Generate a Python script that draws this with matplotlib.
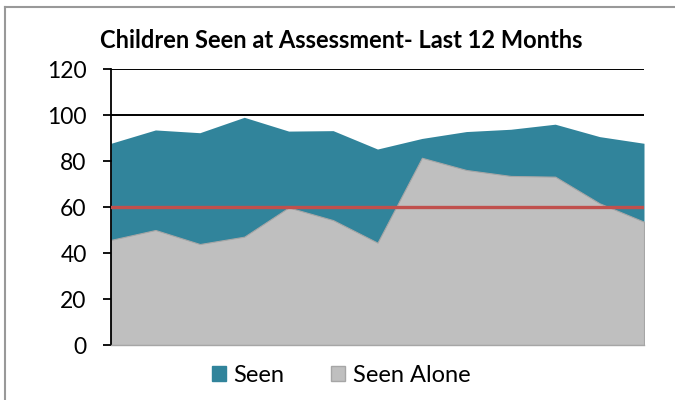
import matplotlib.pyplot as plt
from matplotlib.lines import Line2D
from matplotlib.patches import Patch

plt.rcParams['font.family'] = ['Lato', 'DejaVu Sans']

# 13 monthly points
months = list(range(13))
seen = [87.7, 93.5, 92.3, 99.0, 93.0, 93.2, 85.2, 89.8, 92.8, 93.8, 96.0, 90.6, 87.7]
seen_alone = [45.7, 50.0, 43.9, 47.1, 59.8, 54.3, 44.5, 81.4, 76.1, 73.5, 73.2, 61.6, 53.6]
target = 60
yticks = [0, 20, 40, 60, 80, 100, 120]

teal = '#31849B'
grey = '#BFBFBF'
red = '#C0504D'

fig = plt.figure(figsize=(6.75, 4), dpi=100)
ax = fig.add_axes([111/675, 1-345/400, 533/675, 276/400])

for y in yticks[1:]:
    ax.axhline(y, color='black', lw=1.4, zorder=0)
ax.fill_between(months, 0, seen, color=teal, lw=0, zorder=1)
ax.fill_between(months, 0, seen_alone, color=grey, edgecolor='#A6A6A6', lw=0.8, zorder=2)
ax.plot([months[0], months[-1]], [target, target], color=red, lw=2.4, zorder=3)

ax.set_xlim(months[0], months[-1])
ax.set_ylim(0, 120)
ax.set_yticks(yticks)
ax.set_xticks([])
ax.tick_params(axis='y', labelsize=16.5, length=5.5, width=1.3, direction='out', pad=12)
for s in ['top', 'right']:
    ax.spines[s].set_visible(False)
ax.spines['left'].set_linewidth(1.3)
ax.spines['bottom'].set_color('#A6A6A6')
ax.spines['bottom'].set_linewidth(1.0)

fig.text(341/675, 1-40/400, 'Children Seen at Assessment- Last 12 Months',
         ha='center', va='center', fontsize=17, fontweight='bold')

handles = [Patch(facecolor=teal, edgecolor=teal), Patch(facecolor=grey, edgecolor='#A6A6A6')]
fig.legend(handles, ['Seen', 'Seen Alone'], loc='center', bbox_to_anchor=(341/675, 1-375/400),
           ncol=2, frameon=False, fontsize=17, handlelength=0.6, handleheight=0.6,
           handletextpad=0.3, columnspacing=2.0)

# chart outer border
fig.add_artist(Line2D([5/675, 5/675], [0, 1-7/400], color='#999999', lw=1.5))
fig.add_artist(Line2D([5/675, 1], [1-7/400, 1-7/400], color='#999999', lw=1.5))

fig.savefig('out.png', dpi=100)
